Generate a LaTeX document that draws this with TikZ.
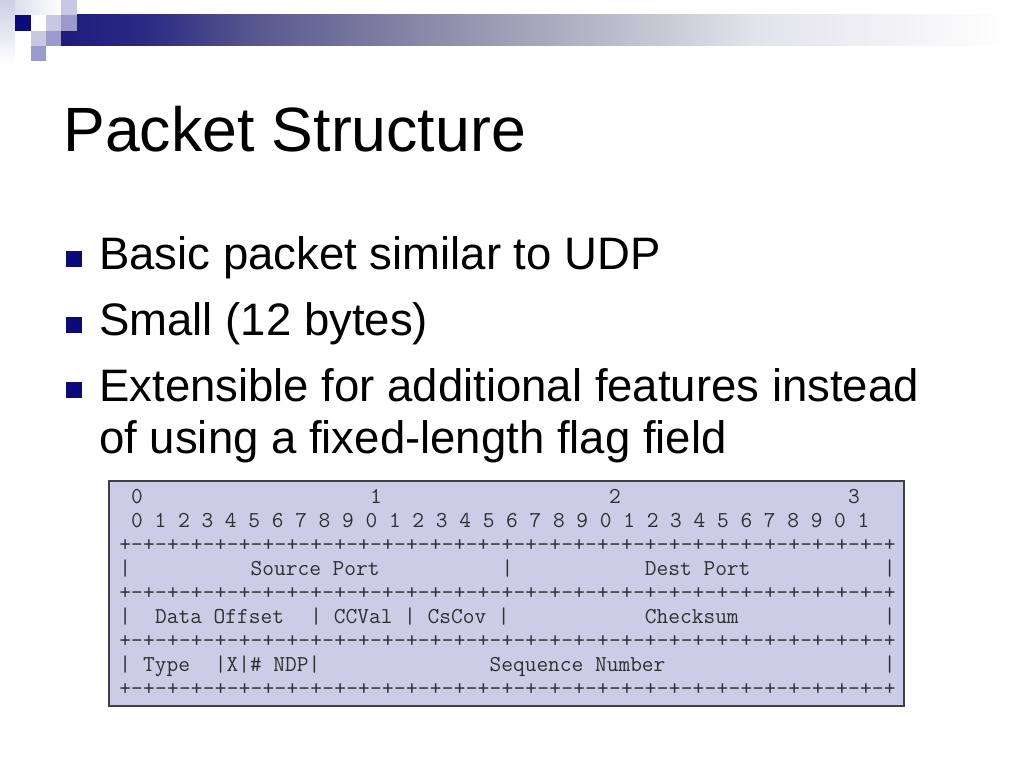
\documentclass[tikz,border=0pt]{standalone}
\usepackage{fontspec}
\setmainfont{Liberation Sans}
\definecolor{navy}{HTML}{0A0A7A}
\definecolor{lavlight}{HTML}{C8C8E2}
\definecolor{lavmid}{HTML}{9A9ACC}
\definecolor{barA}{HTML}{1C1C7E}
\definecolor{barB}{HTML}{2C2C84}
\definecolor{barC}{HTML}{56568E}
\definecolor{barD}{HTML}{8888A8}
\definecolor{barE}{HTML}{B8B8C8}
\definecolor{barF}{HTML}{E2E2EA}
\definecolor{boxfill}{HTML}{CCCCE6}
\definecolor{boxline}{HTML}{404040}
\definecolor{monotext}{HTML}{303030}
\tikzset{
  titletext/.style={anchor=base west, inner sep=0pt, font=\fontsize{44}{52}\selectfont},
  bullettext/.style={anchor=base west, inner sep=0pt, font=\fontsize{32}{37}\selectfont},
  bulletsq/.style={fill=navy},
  codebox/.style={draw=boxline, line width=1pt, fill=boxfill},
  mono/.style={anchor=base west, inner sep=0pt, text=monotext, font=\fontsize{16}{19}\selectfont\ttfamily},
}
\newcommand{\ascseg}[4]{\node[mono] (#1) at ({119+#2*11.947},#3) {#4};}
\newcommand{\sepline}[2]{%
  \foreach \k in {0,...,31} {\node[mono] (#1-\k) at ({119+2*\k*11.947},#2) {+};
    \node[mono] (#1-\k m) at ({119+(2*\k+1)*11.947},#2) {-};}
  \node[mono] (#1-end) at ({119+64*11.947},#2) {+};}
\newcommand{\bsq}[2]{\fill[bulletsq] (66,#2-19) rectangle (82,#2-3); \coordinate (#1) at (66,#2);}
\begin{document}
\begin{tikzpicture}[x=0.703125pt,y=-0.703125pt]
\useasboundingbox (0,0) rectangle (1024,768);
\fill[white] (0,0) rectangle (1024,768);
% top-left decoration
\shade[top color=lavlight!90, bottom color=white] (0,0) rectangle (15,64);
\shade[left color=lavlight!60, right color=white] (15,0) rectangle (61,15);
\shade[left color=barA, right color=barB] (61,15) rectangle (150.5,46);
\shade[left color=barB, right color=barC] (150,15) rectangle (250.5,46);
\shade[left color=barC, right color=barD] (250,15) rectangle (420.5,46);
\shade[left color=barD, right color=barE] (420,15) rectangle (600.5,46);
\shade[left color=barE, right color=barF] (600,15) rectangle (750.5,46);
\shade[left color=barF, right color=white] (750,15) rectangle (1010,46);
\fill[navy] (15,15) rectangle (31,31);
\fill[lavlight] (46,15) rectangle (61,31);
\fill[lavmid] (61,15) rectangle (77,31);
\fill[lavlight] (61,0) rectangle (77,15);
\fill[lavlight] (31,31) rectangle (46,46);
\fill[lavmid] (46,31) rectangle (61,46);
\fill[lavmid] (31,46) rectangle (46,61);
% title
\node[titletext] (title) at (63,152) {Packet Structure};
% bullets
\bsq{b1}{270}
\bsq{b2}{336}
\bsq{b3}{401}
\node[bullettext] (t1) at (99,270) {Basic packet similar to UDP};
\node[bullettext] (t2) at (99,336) {Small (12 bytes)};
\node[bullettext] (t3) at (99,401) {Extensible for additional features instead};
\node[bullettext] (t4) at (99,453) {of using a fixed-length flag field};
% packet box
\draw[codebox] (109,481) rectangle (904,706);
\ascseg{h0a}{1}{503}{0}
\ascseg{h0b}{21}{503}{1}
\ascseg{h0c}{41}{503}{2}
\ascseg{h0d}{61}{503}{3}
\ascseg{h1}{1}{527}{0 1 2 3 4 5 6 7 8 9 0 1 2 3 4 5 6 7 8 9 0 1 2 3 4 5 6 7 8 9 0 1}
\sepline{s1}{551}
\ascseg{r1a}{0}{575}{|}
\ascseg{r1b}{11}{575}{Source Port}
\ascseg{r1c}{32}{575}{|}
\ascseg{r1d}{44}{575}{Dest Port}
\ascseg{r1e}{64}{575}{|}
\sepline{s2}{599}
\ascseg{r2a}{0}{623}{|}
\ascseg{r2b}{3}{623}{Data Offset}
\ascseg{r2c}{16}{623}{| CCVal | CsCov |}
\ascseg{r2d}{44}{623}{Checksum}
\ascseg{r2e}{64}{623}{|}
\sepline{s3}{647}
\ascseg{r3a}{0}{671}{|}
\ascseg{r3b}{2}{671}{Type}
\ascseg{r3c}{8}{671}{|X|\# NDP|}
\ascseg{r3d}{31}{671}{Sequence Number}
\ascseg{r3e}{64}{671}{|}
\sepline{s4}{695}
\end{tikzpicture}
\end{document}
